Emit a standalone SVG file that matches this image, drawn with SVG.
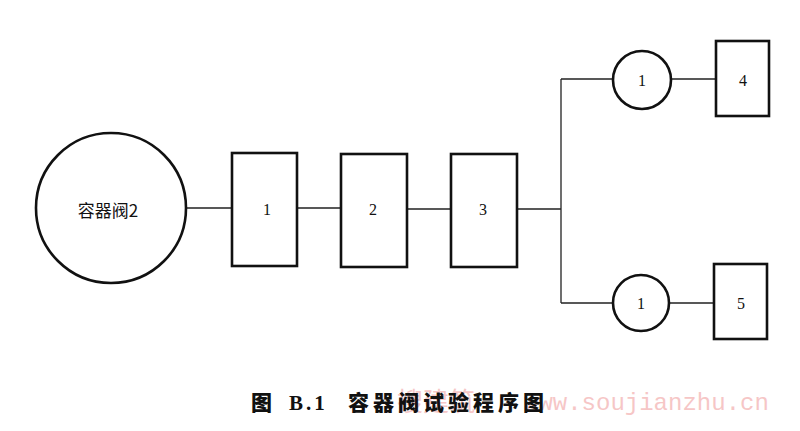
<svg xmlns="http://www.w3.org/2000/svg" width="800" height="431" viewBox="0 0 800 431">
<style>
.shape{fill:#fff;stroke:#111;stroke-width:2.6}
.conn{fill:none;stroke:#222;stroke-width:1.3}
.lbl{font-family:"Liberation Serif","DejaVu Serif",serif;font-size:16px;fill:#111;text-anchor:middle;dominant-baseline:central}
.cjk{font-family:"Noto Sans CJK SC",sans-serif;fill:#111}
.wm{fill:#f4b4b4;opacity:0.75}
</style>
<rect width="800" height="431" fill="#fff"/>
<g id="connectors">
<path class="conn" d="M187 208H232M297 208H341M407 209H451M517 209H561M561 79V303M561 79H613M671 79H716M561 303H612M670 303H714"/>
</g>
<g id="valve">
<circle class="shape" cx="111" cy="208" r="75"/>
<text class="cjk" x="108" y="209" font-size="17" text-anchor="middle" dominant-baseline="central">容器阀2</text>
</g>
<g id="box1"><rect class="shape" x="232" y="153" width="65" height="113"/><text class="lbl" x="267" y="209">1</text></g>
<g id="box2"><rect class="shape" x="341" y="154" width="66" height="113"/><text class="lbl" x="373" y="209">2</text></g>
<g id="box3"><rect class="shape" x="451" y="154" width="66" height="113"/><text class="lbl" x="483" y="209">3</text></g>
<g id="circleTop"><circle class="shape" cx="642" cy="80" r="29"/><text class="lbl" x="642" y="80">1</text></g>
<g id="circleBottom"><circle class="shape" cx="641" cy="303" r="28"/><text class="lbl" x="641" y="303">1</text></g>
<g id="box4"><rect class="shape" x="716" y="41" width="53" height="75"/><text class="lbl" x="743" y="80">4</text></g>
<g id="box5"><rect class="shape" x="714" y="264" width="53" height="75"/><text class="lbl" x="741" y="303">5</text></g>
<g id="watermark">
<text class="wm" x="397" y="411" font-family="Noto Sans CJK SC,sans-serif" font-size="26">搜建筑</text>
<text class="wm" x="524" y="410" font-family="Liberation Mono,monospace" font-size="24">www.soujianzhu.cn</text>
</g>
<g id="caption">
<text class="cjk" x="251" y="410" font-size="21" font-weight="900">图</text>
<text x="289" y="410" font-family="Liberation Serif,serif" font-size="21" font-weight="bold" letter-spacing="3" fill="#111">B.1</text>
<text class="cjk" x="348" y="410" font-size="21" font-weight="900" letter-spacing="4">容器阀试验程序图</text>
</g>
</svg>
